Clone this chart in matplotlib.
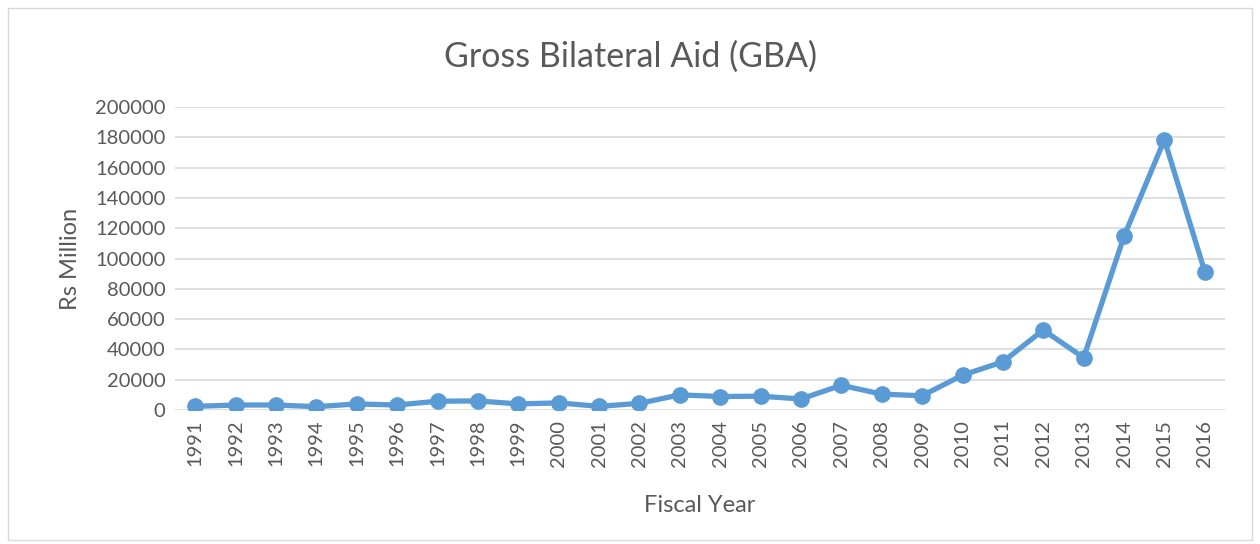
import matplotlib
matplotlib.use('Agg')
import matplotlib.pyplot as plt
from matplotlib.patches import Rectangle
import numpy as np

years = [str(y) for y in range(1991, 2017)]
gba = [2400, 3300, 3300, 2200, 4000, 3300, 5800, 6000, 4000, 4700,
       2400, 4400, 10000, 8900, 9100, 7300, 16300, 10500, 9400, 23000,
       31800, 52800, 34500, 114700, 178400, 91200]
yticks = np.arange(0, 200001, 20000)

plt.rcParams['font.family'] = ['Lato', 'DejaVu Sans']
text_col = '#595959'
grid_col = '#D9D9D9'
line_col = '#5B9BD5'

fig = plt.figure(figsize=(12.6, 5.44), dpi=100)
fig.patches.append(Rectangle((8/1260, 4/544), 1244/1260, 532/544,
                             transform=fig.transFigure, fill=False,
                             edgecolor='#D9D9D9', linewidth=1))

ax = fig.add_axes([175/1260, 134/544, 1050/1260, 303/544])
x = np.arange(len(years))
ax.plot(x, gba, color=line_col, linewidth=3.8, marker='o',
        markersize=11, solid_capstyle='round', zorder=3)

ax.set_xlim(-0.5, len(years) - 0.5)
ax.set_ylim(0, 200000)
ax.set_yticks(yticks)
ax.set_yticklabels([str(v) for v in yticks])
ax.set_xticks(x)
ax.set_xticklabels(years, rotation=90)
ax.yaxis.grid(True, color=grid_col, linewidth=1.2)
ax.set_axisbelow(True)
for s in ax.spines.values():
    s.set_visible(False)
ax.tick_params(length=0, labelsize=14.5, colors=text_col, pad=7)

ax.set_ylabel('Rs Million', fontsize=17, color=text_col, labelpad=10)
ax.set_xlabel('Fiscal Year', fontsize=17, color=text_col, labelpad=20)
fig.suptitle('Gross Bilateral Aid (GBA)', fontsize=24.5, color=text_col,
             y=0.925)

fig.savefig('out.png', dpi=100)
